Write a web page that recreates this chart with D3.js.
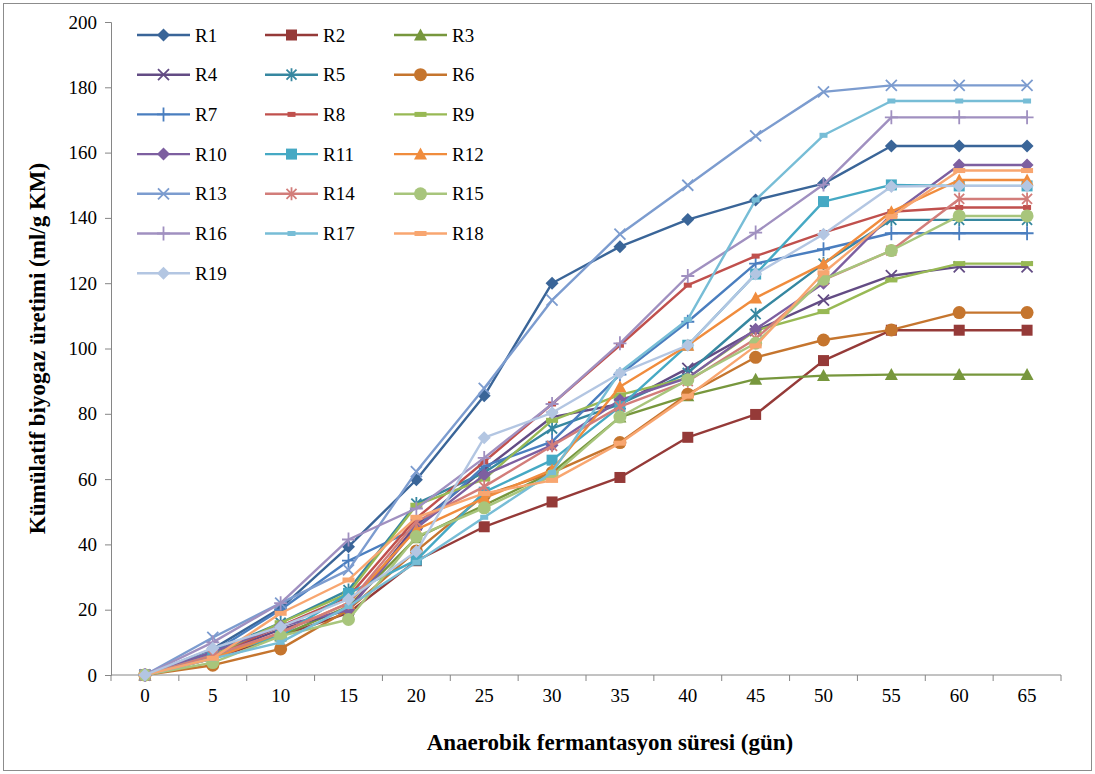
<!DOCTYPE html>
<html>
<head>
<meta charset="utf-8">
<script src="https://cdn.jsdelivr.net/npm/d3@7"></script>
<style>
body{margin:0;background:#fff}
</style>
</head>
<body>
<svg></svg>
<script>
const days = [0,5,10,15,20,25,30,35,40,45,50,55,60,65];
const yTicks = [0,20,40,60,80,100,120,140,160,180,200];
const names = ['R1','R2','R3','R4','R5','R6','R7','R8','R9','R10','R11','R12','R13','R14','R15','R16','R17','R18','R19'];

const R1  = [0,8,20.5,39.3,59.8,85.5,120,131.2,139.5,145.5,150.5,162,162,162];
const R2  = [0,5,12,19,35,45.4,53,60.5,72.8,79.8,96.3,105.6,105.6,105.6];
const R3  = [0,6,12,21,42,52,62,79,85.5,90.6,91.7,92,92,92];
const R4  = [0,6,14,20,46,63,79,83,93.9,105.5,114.8,122.3,125,125];
const R5  = [0,7,16,26,52.5,62,75.5,83,92.5,110.5,126,139.4,139.4,139.4];
const R6  = [0,3,8,20,38,55,62,71.2,86,97.3,102.6,105.7,111,111];
const R7  = [0,7,20,35,45,64,71.5,92,108.2,126,130.4,135.3,135.3,135.3];
const R8  = [0,6,15,24,48,65.3,83,101,119.4,128.3,135.5,141.9,143.2,143.2];
const R9  = [0,6,16,25,52,60,78,85.8,91,105.5,111.3,121,126,126];
const R10 = [0,7,15,19.9,45,61.3,70.4,84.2,91,105.9,120,141,156.2,156.2];
const R11 = [0,6,12,25,35.2,56,65.8,82.2,101,122.8,145,150.1,149.8,149.8];
const R12 = [0,5,13,22,44.5,54.2,62.8,88.3,101,115.5,125.9,141.9,151.6,151.6];
const R13 = [0,11.5,22,32.2,62.3,87.8,114.8,135,150,165.1,178.6,180.6,180.6,180.6];
const R14 = [0,6,13,22,47,57.7,70.2,82.2,90,103,121,130,145.8,145.8];
const R15 = [0,3.8,11.9,17,42.4,51.2,61,79,90.4,101.6,121.2,130,140.6,140.6];
const R16 = [0,10,22,41.5,51,66.5,83,101.6,122.2,135.5,150.2,170.8,170.8,170.8];
const R17 = [0,5,10,21,34.5,48.3,62,92.8,108.9,145.5,165.3,175.8,175.8,175.8];
const R18 = [0,5.1,18.9,29.1,48.3,55.6,59.6,71,85.4,100.8,123.2,140.4,154.5,154.5];
const R19 = [0,8.2,14.8,23.2,37.8,72.7,80.3,92.4,101,122.8,135,149.6,149.8,149.8];
const values = [R1,R2,R3,R4,R5,R6,R7,R8,R9,R10,R11,R12,R13,R14,R15,R16,R17,R18,R19];

const colors = ['#3a6598','#953a38','#77973d','#634c84','#3687a0','#c5752e',
                '#4a7ebf','#c0504d','#98b954','#7d5fa0','#46a9c4','#f08c3d',
                '#7c9ccf','#d27d7a','#a8c57c','#a090c0','#77bdd6','#f8a670','#b3c6e2'];
const shapes = ['diamond','square','triangle','x','star','circle',
                'plus','dash','longdash','diamond','square','triangle',
                'x','star','circle','plus','dash','longdash','diamond'];

const serif = '"Liberation Serif", "Times New Roman", "DejaVu Serif", serif';
const width = 1095, height = 774;
const svg = d3.select('svg').attr('width', width).attr('height', height);

// chart frame
svg.append('rect').attr('x', 3.5).attr('y', 3.5)
  .attr('width', width - 7).attr('height', height - 7)
  .style('fill', 'none').style('stroke', '#8c8c8c').style('stroke-width', 1);

const plotLeft = 111, plotRight = 1061, plotTop = 22, plotBottom = 675;
const x = d3.scaleLinear().domain([-2.5, 67.5]).range([plotLeft, plotRight]);
const y = d3.scaleLinear().domain([0, 200]).range([plotBottom, plotTop]);

// y axis
const yAxis = svg.append('g').attr('transform', 'translate(' + plotLeft + ',0)')
  .call(d3.axisLeft(y).tickValues(yTicks).tickSize(6).tickPadding(8));
yAxis.select('.domain').style('stroke', '#868686');
yAxis.selectAll('.tick line').style('stroke', '#868686');
yAxis.selectAll('text').attr('font-family', null)
  .style('font-size', '19px').style('font-family', serif).style('fill', '#000');

// x axis (category style: ticks between labels)
const xAxis = svg.append('g').attr('transform', 'translate(0,' + plotBottom + ')');
xAxis.append('line').attr('x1', plotLeft).attr('x2', plotRight)
  .style('stroke', '#868686');
xAxis.selectAll('line.tk').data(d3.range(-2.5, 68, 5)).enter().append('line')
  .classed('tk', true)
  .attr('x1', d => x(d)).attr('x2', d => x(d))
  .attr('y1', 0).attr('y2', 6).style('stroke', '#868686');
xAxis.selectAll('text').data(days).enter().append('text')
  .attr('x', d => x(d)).attr('y', 27)
  .attr('text-anchor', 'middle')
  .style('font-size', '19px').style('font-family', serif)
  .text(d => d);

// axis titles
svg.append('text')
  .attr('transform', 'translate(45,' + ((plotTop + plotBottom) / 2) + ') rotate(-90)')
  .attr('text-anchor', 'middle')
  .style('font-size', '23px').style('font-weight', 'bold').style('font-family', serif)
  .text('Kümülatif biyogaz üretimi (ml/g KM)');
svg.append('text')
  .attr('x', 610).attr('y', 750)
  .attr('text-anchor', 'middle')
  .style('font-size', '23px').style('font-weight', 'bold').style('font-family', serif)
  .text('Anaerobik fermantasyon süresi (gün)');

function marker(g, shape, color){
  if(shape === 'diamond'){
    g.append('path').attr('d', 'M0,-6.5L6.5,0L0,6.5L-6.5,0Z').style('fill', color);
  } else if(shape === 'square'){
    g.append('rect').attr('x', -5.5).attr('y', -5.5).attr('width', 11).attr('height', 11).style('fill', color);
  } else if(shape === 'triangle'){
    g.append('path').attr('d', 'M0,-6.5L6.5,5.5L-6.5,5.5Z').style('fill', color);
  } else if(shape === 'circle'){
    g.append('circle').attr('r', 6.5).style('fill', color);
  } else if(shape === 'x'){
    g.append('path').attr('d', 'M-5.5,-5.5L5.5,5.5M-5.5,5.5L5.5,-5.5')
      .style('stroke', color).style('stroke-width', 1.8).style('fill', 'none');
  } else if(shape === 'star'){
    g.append('path').attr('d', 'M-5,-5L5,5M-5,5L5,-5M0,-6.5L0,6.5')
      .style('stroke', color).style('stroke-width', 1.8).style('fill', 'none');
  } else if(shape === 'plus'){
    g.append('path').attr('d', 'M-6.5,0L6.5,0M0,-7L0,7')
      .style('stroke', color).style('stroke-width', 1.8).style('fill', 'none');
  } else if(shape === 'dash'){
    g.append('rect').attr('x', -4).attr('y', -2.5).attr('width', 8).attr('height', 5).style('fill', color);
  } else if(shape === 'longdash'){
    g.append('rect').attr('x', -6).attr('y', -2.5).attr('width', 12).attr('height', 5).style('fill', color);
  }
}

const line = d3.line().x((d, i) => x(days[i])).y(d => y(d));
const plot = svg.append('g');

values.forEach((vals, s) => {
  const g = plot.append('g');
  g.append('path').datum(vals).attr('d', line)
    .style('fill', 'none').style('stroke', colors[s]).style('stroke-width', 2.4)
    .style('stroke-linejoin', 'round');
  vals.forEach((v, i) => {
    marker(g.append('g').attr('transform', 'translate(' + x(days[i]) + ',' + y(v) + ')'), shapes[s], colors[s]);
  });
});

// legend
const legend = svg.append('g');
const colX = [137, 265, 394], rowY0 = 35, rowStep = 39.7;
names.forEach((n, s) => {
  const cx = colX[s % 3], cy = rowY0 + Math.floor(s / 3) * rowStep;
  const g = legend.append('g').attr('transform', 'translate(' + cx + ',' + cy + ')');
  g.append('line').attr('x1', 0).attr('x2', 53).attr('y1', 0).attr('y2', 0)
    .style('stroke', colors[s]).style('stroke-width', 2.4);
  marker(g.append('g').attr('transform', 'translate(26.5,0)'), shapes[s], colors[s]);
  g.append('text').attr('x', 58).attr('y', 6.5)
    .style('font-size', '19px').style('font-family', serif).text(n);
});
</script>
</body>
</html>
